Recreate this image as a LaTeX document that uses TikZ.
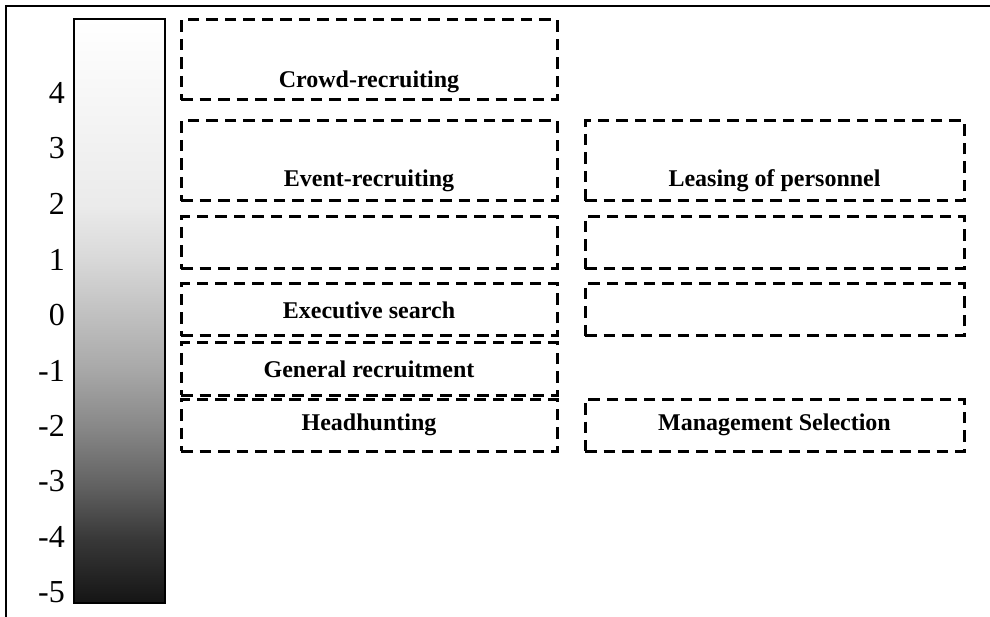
\documentclass[tikz,border=0pt]{standalone}
\usepackage{fontspec}
\setmainfont{Liberation Serif}
\usetikzlibrary{positioning,calc}
% stops run from 25bp (bottom of bar) to 75bp (top of bar)
\pgfdeclareverticalshading{greybar}{100bp}{%
    color(0bp)=(black!92); color(25bp)=(black!92); color(30.5bp)=(black!78);
    color(35bp)=(black!62); color(40bp)=(black!47); color(45bp)=(black!34);
    color(49.5bp)=(black!25); color(54.5bp)=(black!15); color(59bp)=(black!8);
    color(75bp)=(white); color(100bp)=(white)}
\tikzset{
    cell/.style={
        rectangle,
        draw=black, line width=3pt,
        dash pattern=on 11.5pt off 7pt,
        minimum width=376pt,
        minimum height=52pt,
        inner sep=0pt,
        font=\fontsize{24}{28}\selectfont\bfseries
    },
    tallcell/.style={cell, minimum height=80pt},
    wide/.style={minimum width=379pt},
    celltext/.style={
        inner sep=0pt,
        font=\fontsize{24}{28}\selectfont\bfseries
    },
    scalelbl/.style={
        anchor=east,
        inner sep=0pt,
        font=\fontsize{32}{36}\selectfont
    },
    bar/.style={
        rectangle,
        draw=black, line width=1.2pt,
        shading=greybar,
        minimum width=91pt,
        minimum height=584pt,
        inner sep=0pt
    }
}

\begin{document}
\begin{tikzpicture}[x=1pt, y=-1pt]
    \useasboundingbox (0,0) rectangle (990,617);
    % frame
    \draw[line width=1.8pt] (6,617) -- (6,6) -- (990,6);
    % scale
    \node[bar] (bar) at (119.5,311) {};
    \foreach \v [count=\i from 0] in {4,3,...,-5}
        \node[scalelbl] (lbl\i) at (65,{93+\i*55.5}) {\v};
    % left column
    \node[tallcell] (crowd) at (369,60) {};
    \node[celltext] (crowdtxt) at (369,82) {Crowd-recruiting};
    \node[tallcell] (event) at (369,161) {};
    \node[celltext] (eventtxt) at (369,181) {Event-recruiting};
    \node[cell] (lblank) at (369,243) {};
    \node[cell] (exec) at (369,310) {Executive search};
    \node[cell] (general) at (369,369) {General recruitment};
    \node[cell] (head) at (369,425) {Headhunting};
    % right column
    \node[tallcell, wide] (leasing) at (774.5,161) {};
    \node[celltext] (leasingtxt) at (774.5,181) {Leasing of personnel};
    \node[cell, wide] (rblanka) at (774.5,243) {};
    \node[cell, wide] (rblankb) at (774.5,310) {};
    \node[cell, wide] (mgmt) at (774.5,425) {Management Selection};
\end{tikzpicture}
\end{document}
